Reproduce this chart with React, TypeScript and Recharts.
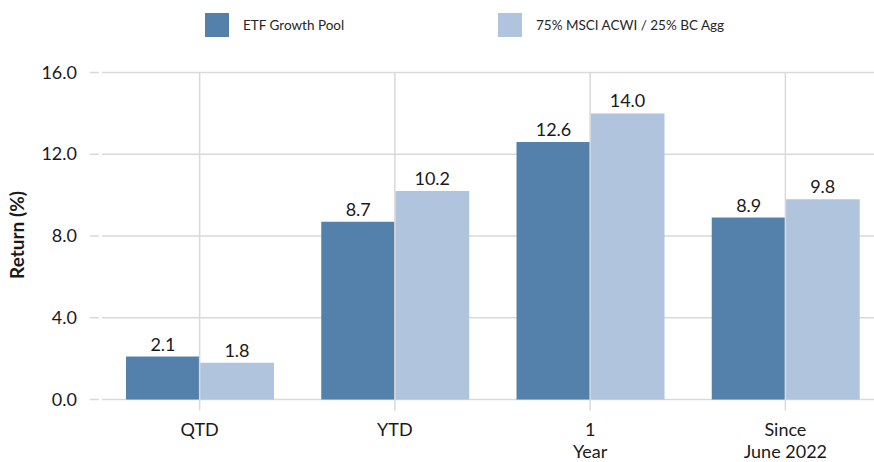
import { BarChart, Bar, XAxis, YAxis, CartesianGrid, LabelList } from "recharts"

const categories = ["QTD", "YTD", "1\nYear", "Since\nJune 2022"]
const etfGrowth = [2.1, 8.7, 12.6, 8.9]
const benchmark = [1.8, 10.2, 14.0, 9.8]
const yTicks = [0, 4, 8, 12, 16]

const seriesNames = ["ETF Growth Pool", "75% MSCI ACWI / 25% BC Agg"]
const COLORS = ["#5481AC", "#B0C4DE"]

const FONT = "Lato, 'Open Sans', sans-serif"
const GRID = "#d9d9d9"
const PLOT_TOP = 72.5

const data = categories.map((c, i) => ({ name: c, etf: etfGrowth[i], bench: benchmark[i] }))

function YTick({ x, y, payload }: any) {
  return (
    <g>
      <line x1={x - 12} x2={x - 3} y1={y} y2={y} stroke={GRID} strokeWidth={1.5} />
      <text x={x - 25} y={y} dy={6} textAnchor="end" fontSize={18} fontFamily={FONT} fill="#1a1a1a">
        {Number(payload.value).toFixed(1)}
      </text>
    </g>
  )
}

// vertical grid line + tick mark drawn together at the category centre
function XTick({ x, y, payload }: any) {
  const lines = String(payload.value).split("\n")
  return (
    <g>
      <line x1={x} x2={x} y1={PLOT_TOP} y2={y} stroke={GRID} strokeWidth={1.5} />
      <text x={x} y={y} textAnchor="middle" fontSize={18} fontFamily={FONT} fill="#1a1a1a">
        {lines.map((l, i) => (
          <tspan key={i} x={x} dy={i === 0 ? 25 : 22}>{l}</tspan>
        ))}
      </text>
    </g>
  )
}

function YLabel() {
  return (
    <text
      x={16.5}
      y={235}
      transform="rotate(-90 16.5 235)"
      textAnchor="middle"
      dominantBaseline="central"
      fontSize={19}
      fontWeight="bold"
      fontFamily={FONT}
      fill="#1a1a1a"
    >
      Return (%)
    </text>
  )
}

export default function App() {
  return (
    <div style={{ position: "fixed", top: 0, left: 0, width: 874, height: 462, overflow: "hidden", background: "#fff" }}>
      <div style={{ position: "absolute", top: 13, left: 205, display: "flex", fontFamily: FONT, fontSize: 13.5, color: "#262626" }}>
        {seriesNames.map((n, i) => (
          <div key={n} style={{ display: "flex", alignItems: "center", width: i === 0 ? 293 : "auto" }}>
            <div style={{ width: 24, height: 24, background: COLORS[i], marginRight: 14 }} />
            <span>{n}</span>
          </div>
        ))}
      </div>
      <BarChart
        width={884}
        height={462}
        data={data}
        margin={{ top: PLOT_TOP, right: 1, bottom: 0, left: 0 }}
        barGap={0}
        barSize={74}
      >
        <CartesianGrid stroke={GRID} strokeWidth={1.5} vertical={false} />
        <XAxis
          dataKey="name"
          height={62.5}
          axisLine={false}
          tickLine={false}
          tickSize={11}
          tickMargin={0}
          tick={<XTick />}
          interval={0}
        />
        <YAxis
          width={102}
          domain={[0, 16]}
          ticks={yTicks}
          axisLine={false}
          tickLine={false}
          tickSize={0}
          tickMargin={0}
          tick={<YTick />}
          label={<YLabel />}
        />
        <Bar dataKey="etf" name={seriesNames[0]} fill={COLORS[0]} isAnimationActive={false}>
          <LabelList dataKey="etf" position="top" offset={6} formatter={(v: any) => Number(v).toFixed(1)} style={{ fontSize: 18, fontFamily: FONT, fill: "#1a1a1a" }} />
        </Bar>
        <Bar dataKey="bench" name={seriesNames[1]} fill={COLORS[1]} isAnimationActive={false}>
          <LabelList dataKey="bench" position="top" offset={6} formatter={(v: any) => Number(v).toFixed(1)} style={{ fontSize: 18, fontFamily: FONT, fill: "#1a1a1a" }} />
        </Bar>
      </BarChart>
    </div>
  )
}
